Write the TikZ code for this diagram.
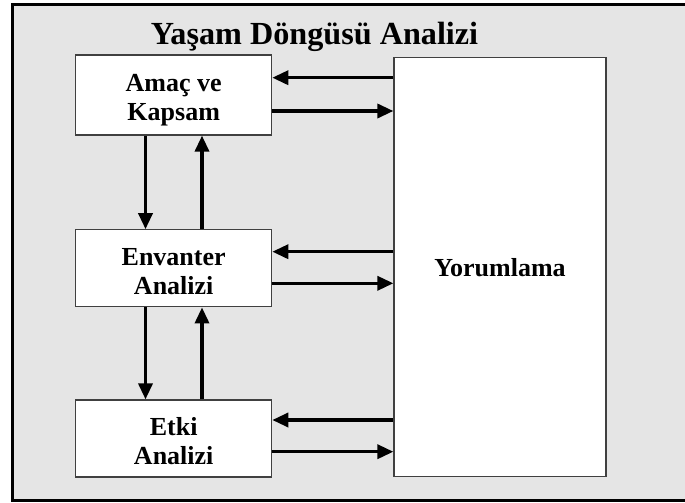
\documentclass[tikz,border=0pt]{standalone}
\usepackage{fontspec}
\setmainfont{Liberation Serif}
\usetikzlibrary{arrows.meta}

\begin{document}
\begin{tikzpicture}
  [x=1pt,y=-1pt,line cap=butt,
   % Styles
   stage/.style={draw=black!75,line width=1.2pt,fill=white,align=center,
     inner sep=0pt,minimum width=196pt,text height=51.5pt,text depth=0pt,
     font=\bfseries\fontsize{26}{29}\selectfont},
   flow/.style={line width=3.4pt,-{Triangle[length=16pt,width=14pt]}},
   title text/.style={anchor=base,font=\bfseries\fontsize{32.2}{36}\selectfont}]

  % Colors
  \colorlet{panelcolor}{black!10}

  % The frame
  \useasboundingbox (0,0) rectangle (685,503);
  \draw[line width=3pt,fill=panelcolor] (12,5) rectangle (695,500);

  \node[title text] (title) at (314.5,45) {Yaşam Döngüsü Analizi};

  % The stages
  \node[stage,minimum height=80pt] (amac) at (173.7,95) {Amaç ve\\Kapsam};
  \node[stage,minimum height=77pt] (envanter) at (173.7,268.3) {Envanter\\Analizi};
  \node[stage,minimum height=77pt] (etki) at (173.7,438.5) {Etki\\Analizi};
  \node[stage,minimum width=212pt,minimum height=419pt,text height=17.6pt]
    (yorum) at (500,267.2) {Yorumlama};

  % Between the stages
  \draw[flow] (amac.south -| 145.5,0) -- (envanter.north -| 145.5,0);
  \draw[flow] (envanter.north -| 202,0) -- (amac.south -| 202,0);
  \draw[flow] (envanter.south -| 145.5,0) -- (etki.north -| 145.5,0);
  \draw[flow] (etki.north -| 202,0) -- (envanter.south -| 202,0);

  % To and from the interpretation
  \foreach \stage/\back/\forth in {amac/77.7/111, envanter/251.7/283.3, etki/420/451.7}
  {
    \draw[flow] (yorum.west |- 0,\back) -- (\stage.east |- 0,\back);
    \draw[flow] (\stage.east |- 0,\forth) -- (yorum.west |- 0,\forth);
  }
\end{tikzpicture}
\end{document}
